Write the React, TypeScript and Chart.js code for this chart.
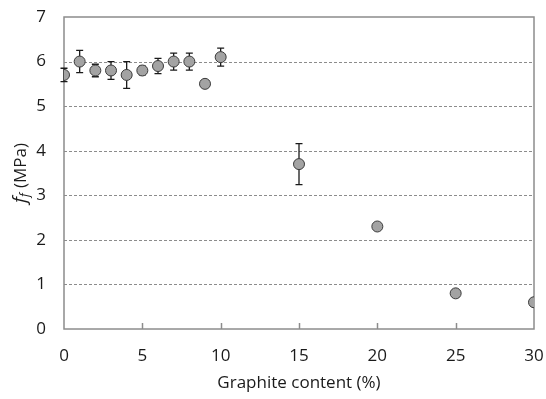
import React, { useEffect, useRef } from "react";
import { Chart, registerables } from "chart.js";

Chart.register(...registerables);

const graphiteContent = [0, 1, 2, 3, 4, 5, 6, 7, 8, 9, 10, 15, 20, 25, 30];
const flexuralStrength = [5.7, 6.0, 5.8, 5.8, 5.7, 5.8, 5.9, 6.0, 6.0, 5.5, 6.1, 3.7, 2.3, 0.8, 0.6];
const errorValues = [0.15, 0.25, 0.14, 0.2, 0.3, 0.1, 0.17, 0.19, 0.19, 0, 0.2, 0.46, 0, 0.08, 0];
const xTicks = [0, 5, 10, 15, 20, 25, 30];
const yTicks = [0, 1, 2, 3, 4, 5, 6, 7];
const xTitle = "Graphite content (%)";

const FONT = "'Open Sans', 'Liberation Sans', sans-serif";
const TEXT = "#1a1a1a";

const framePlugin = {
  id: "frame",
  beforeDatasetsDraw(chart: any) {
    const { ctx, chartArea: a, scales } = chart;
    const y = scales.y;
    const x = scales.x;
    ctx.save();
    ctx.strokeStyle = "#8c8c8c";
    ctx.lineWidth = 1;
    ctx.setLineDash([3, 2]);
    for (const v of yTicks) {
      if (v === 0 || v === 7) continue;
      const py = Math.round(y.getPixelForValue(v)) + 0.5;
      ctx.beginPath();
      ctx.moveTo(a.left, py);
      ctx.lineTo(a.right, py);
      ctx.stroke();
    }
    ctx.setLineDash([]);
    ctx.strokeStyle = "#8c8c8c";
    ctx.lineWidth = 1.5;
    ctx.strokeRect(a.left, a.top, a.right - a.left, a.bottom - a.top);
    for (const v of xTicks) {
      if (v === 0 || v === 30) continue;
      const px = Math.round(x.getPixelForValue(v)) + 0.5;
      ctx.beginPath();
      ctx.moveTo(px, a.bottom);
      ctx.lineTo(px, a.bottom - 6);
      ctx.stroke();
    }
    ctx.strokeStyle = "#1a1a1a";
    ctx.lineWidth = 1.3;
    graphiteContent.forEach((gx, i) => {
      const e = errorValues[i];
      if (!e) return;
      const px = x.getPixelForValue(gx);
      const top = y.getPixelForValue(flexuralStrength[i] + e);
      const bot = y.getPixelForValue(flexuralStrength[i] - e);
      ctx.beginPath();
      ctx.moveTo(px, top);
      ctx.lineTo(px, bot);
      ctx.moveTo(px - 3.5, top);
      ctx.lineTo(px + 3.5, top);
      ctx.moveTo(px - 3.5, bot);
      ctx.lineTo(px + 3.5, bot);
      ctx.stroke();
    });
    ctx.restore();
  },
  afterDraw(chart: any) {
    const { ctx, chartArea: a, scales } = chart;
    const x = scales.x;
    const y = scales.y;
    ctx.save();
    ctx.fillStyle = TEXT;
    // y tick labels
    ctx.font = "17px " + FONT;
    ctx.textAlign = "right";
    ctx.textBaseline = "middle";
    for (const v of yTicks) {
      ctx.fillText(String(v), 46, y.getPixelForValue(v));
    }
    // x tick labels
    ctx.textAlign = "center";
    ctx.font = "17px " + FONT;
    for (const v of xTicks) {
      ctx.fillText(String(v), x.getPixelForValue(v), 356);
    }
    // x title
    ctx.font = "17px " + FONT;
    ctx.fillText(xTitle, (a.left + a.right) / 2, 383);
    // y title
    const cy = (a.top + a.bottom) / 2;
    ctx.translate(26, cy);
    ctx.rotate(-Math.PI / 2);
    ctx.textAlign = "left";
    ctx.textBaseline = "alphabetic";
    const big = "italic 19px " + FONT;
    const small = "italic 12px " + FONT;
    const rest = "17px " + FONT;
    ctx.font = big;
    const w1 = ctx.measureText("f").width;
    ctx.font = small;
    const w2 = ctx.measureText("f").width;
    ctx.font = rest;
    const w3 = ctx.measureText(" (MPa)").width;
    const total = w1 + w2 + 1 + w3;
    let cx = -total / 2;
    ctx.font = big;
    ctx.fillText("f", cx, 0);
    cx += w1;
    ctx.font = small;
    ctx.fillText("f", cx, 3);
    cx += w2 + 1;
    ctx.font = rest;
    ctx.fillText(" (MPa)", cx, 0);
    ctx.restore();
  },
};

export default function App() {
  const ref = useRef<HTMLCanvasElement>(null);
  useEffect(() => {
    if (!ref.current) return;
    const chart = new Chart(ref.current, {
      type: "scatter",
      data: {
        datasets: [
          {
            data: graphiteContent.map((gx, i) => ({ x: gx, y: flexuralStrength[i] })),
            backgroundColor: "#a3a3a3",
            borderColor: "#3a3a3a",
            borderWidth: 1,
            pointRadius: 5.5,
            pointHoverRadius: 5.5,
          },
        ],
      },
      options: {
        animation: false,
        responsive: false,
        events: [],
        layout: { padding: { left: 0, right: 12, top: 17, bottom: 0 } },
        plugins: { legend: { display: false }, tooltip: { enabled: false } },
        scales: {
          x: {
            type: "linear",
            min: 0,
            max: 30,
            afterBuildTicks: (s: any) => {
              s.ticks = xTicks.map((v) => ({ value: v }));
            },
            grid: { display: false, drawTicks: false },
            border: { display: false },
            ticks: { display: false },
            afterFit: (s: any) => {
              s.height = 70;
            },
          },
          y: {
            type: "linear",
            min: 0,
            max: 7,
            afterBuildTicks: (s: any) => {
              s.ticks = yTicks.map((v) => ({ value: v }));
            },
            grid: { display: false, drawTicks: false },
            border: { display: false },
            ticks: { display: false },
            afterFit: (s: any) => {
              s.width = 64;
            },
          },
        },
      },
      plugins: [framePlugin],
    });
    return () => chart.destroy();
  }, []);
  return (
    <div style={{ position: "absolute", left: 0, top: 0, width: 546, height: 399, background: "#fff" }}>
      <canvas ref={ref} width={546} height={399} />
    </div>
  );
}
